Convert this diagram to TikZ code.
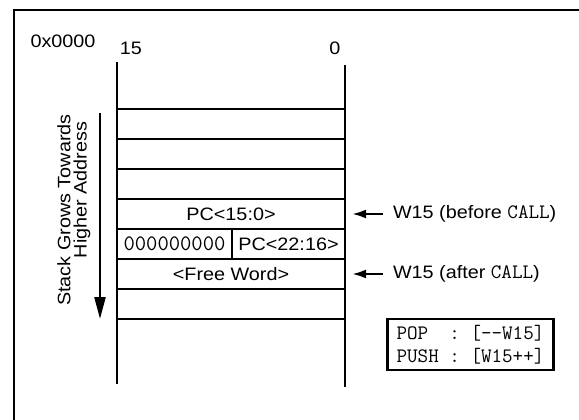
\documentclass[tikz,border=0pt]{standalone}
\usepackage{fontspec}
\setmainfont{Liberation Sans}[FakeStretch=1.1]
\usetikzlibrary{arrows.meta,positioning}

\begin{document}
\begin{tikzpicture}[x=1pt, y=-1pt, line width=2.4pt, every node/.style={font=\fontsize{18}{20}\selectfont, inner sep=0pt, outer sep=0pt}, cell/.style={draw, minimum width=228pt, minimum height=30pt, anchor=north west}, ptr/.style={-{Latex[length=14pt,width=9pt]}}, growarr/.style={-{Triangle[length=22pt,width=11pt]}}]
\useasboundingbox (0,0) rectangle (579,420);
\fill[white] (0,0) rectangle (579,420);
\draw[line width=2.6pt] (14,430) |- (590,10);
% stack words
\node[cell] (w1) at (117,109) {};
\node[cell, below=0pt of w1] (w2) {};
\node[cell, below=0pt of w2] (w3) {};
\node[cell, below=0pt of w3] (w4) {PC<15:0>};
\node[cell, minimum width=115pt] (w5a) at (w4.south west) {\ttfamily\fontsize{22}{24}\selectfont 000000000};
\node[cell, minimum width=113pt, right=0pt of w5a] (w5b) {PC<22:16>};
\node[cell, anchor=north west] (w6) at (w5a.south west) {<Free Word>};
\node[cell, below=0pt of w6] (w7) {};
\coordinate (ltop) at (117,62); \coordinate (lbot) at (117,384);
\coordinate (rtop) at (345,65); \coordinate (rbot) at (345,387);
\draw (ltop) -- (lbot); \draw (rtop) -- (rbot);
% bit numbers and address
\node (addr) at (63,41) {0x0000};
\node (msb) at (131,48) {15};
\node (lsb) at (335,48) {0};
% growth direction
\node[rotate=90] (grows) at (64,210) {Stack Grows Towards};
\node[rotate=90] (higher) at (82,190) {Higher Address};
\coordinate (gtop) at (100,113); \coordinate (gbot) at (100,319);
\draw[growarr] (gtop) -- (gbot);
% stack pointer
\node[right=48pt of w4] (before) {W15 (before {\ttfamily\fontsize{20.5}{20}\selectfont CALL})};
\node[right=48pt of w6] (after) {W15 (after {\ttfamily\fontsize{20.5}{20}\selectfont CALL})};
\draw[ptr] ([xshift=-10pt]before.west) -- ([xshift=7pt]w4.east);
\draw[ptr] ([xshift=-10pt]after.west) -- ([xshift=7pt]w6.east);
\node[draw, line width=2.6pt, align=left, inner xsep=9pt, inner ysep=6pt, font=\ttfamily\fontsize{20.5}{23}\selectfont] (ops) at (470.5,344.5) {POP\ \ : [-{}-W15]\\PUSH : [W15++]};
\end{tikzpicture}
\end{document}
